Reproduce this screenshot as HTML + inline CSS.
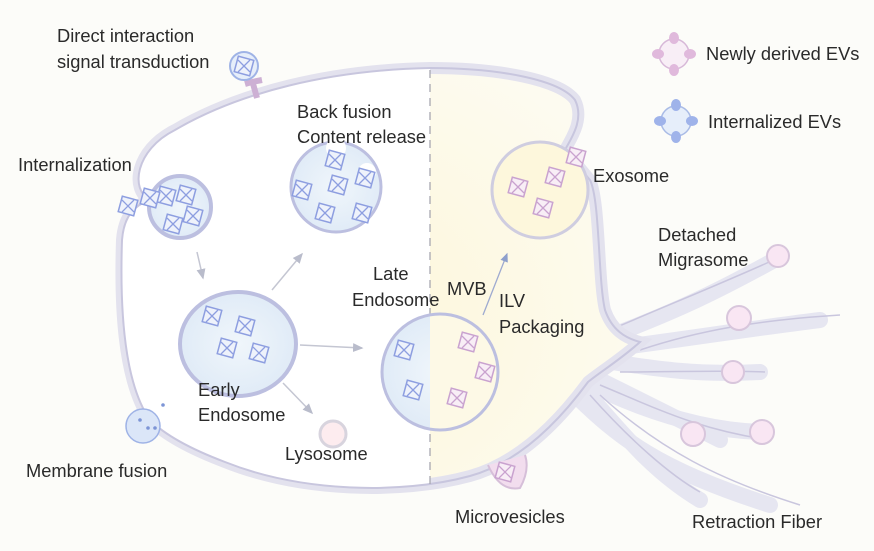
<!DOCTYPE html>
<html><head><meta charset="utf-8"><style>
html,body{margin:0;padding:0;background:#fcfcf9;}
svg{display:block}
text{font-family:"Liberation Sans",Arial,sans-serif;font-size:18.3px;fill:#2a2a2a}
</style></head><body>
<svg width="874" height="551" viewBox="0 0 874 551" xmlns="http://www.w3.org/2000/svg">
<defs>
<radialGradient id="yel" cx="0.35" cy="0.6" r="0.7">
<stop offset="0" stop-color="#fdf6d6"/><stop offset="1" stop-color="#fdfbf0"/></radialGradient>
<radialGradient id="blu" cx="0.5" cy="0.5" r="0.6">
<stop offset="0" stop-color="#f0f6fb"/><stop offset="1" stop-color="#dde9f6"/></radialGradient>
<clipPath id="leftc"><rect x="0" y="0" width="430" height="551"/></clipPath>
<clipPath id="rightc"><rect x="430" y="0" width="444" height="551"/></clipPath>
<path id="cell" d="M150,200 C130,190 135,150 175,130 C240,92 330,70 430,68 C500,68 560,80 575,100 C585,120 570,140 565,150 L590,180 C600,200 598,280 605,310 C612,330 625,338 640,342 C620,360 600,372 588,382 C560,420 520,462 470,476 C400,495 300,492 225,462 C180,445 160,430 150,420 C122,380 120,300 122,240 C124,215 135,205 150,200 Z"/>
<g id="cb"><rect x="-8" y="-8" width="16" height="16" fill="#eef2fb" stroke="#8d9ee0" stroke-width="1.5" transform="rotate(15)"/><path d="M-6,-6L6,6M6,-6L-6,6" stroke="#8d9ee0" stroke-width="1.3"/></g>
<g id="cp"><rect x="-8" y="-8" width="16" height="16" fill="#f8eef6" stroke="#c9a2cf" stroke-width="1.5" transform="rotate(15)"/><path d="M-6,-6L6,6M6,-6L-6,6" stroke="#c9a2cf" stroke-width="1.3"/></g>
<marker id="ar" markerWidth="8" markerHeight="8" refX="6" refY="4" orient="auto"><path d="M0,1L7,4L0,7Z" fill="#b9bccb"/></marker>
<marker id="arb" markerWidth="8" markerHeight="8" refX="6" refY="4" orient="auto"><path d="M0,1L7,4L0,7Z" fill="#8ea0cc"/></marker>
</defs>

<!-- fibers -->
<g stroke="#e6e6f1" stroke-width="16" fill="none" stroke-linecap="round">
<path d="M600,340 C680,310 720,290 778,258"/>
<path d="M600,350 C680,340 740,330 820,320"/>
<path d="M600,360 C660,370 700,375 760,372"/>
<path d="M590,375 C640,400 680,420 720,440"/>
<path d="M580,380 C640,410 700,430 760,432"/>
<path d="M580,385 C620,430 650,470 700,500"/>
<path d="M570,390 C620,440 660,470 770,505"/>
</g>
<g stroke="#c9c6de" stroke-width="1.5" fill="none">
<path d="M610,330 C680,300 730,280 778,258"/>
<path d="M640,350 C700,330 760,320 840,315"/>
<path d="M620,372 C680,372 720,370 765,372"/>
<path d="M600,385 C660,410 700,430 770,440"/>
<path d="M590,395 C630,440 670,475 700,492"/>
<path d="M600,395 C660,450 720,480 800,505"/>
</g>

<!-- cell -->
<use href="#cell" fill="url(#yel)" stroke="#e3e2ee" stroke-width="12"/>
<use href="#cell" fill="#ffffff" clip-path="url(#leftc)"/>
<use href="#cell" fill="none" stroke="#c8c6de" stroke-width="2"/>

<line x1="430" y1="70" x2="430" y2="485" stroke="#a8a8b0" stroke-width="1.3" stroke-dasharray="8,6"/>

<!-- receptor top -->
<path d="M252,80 L257,98 M245,84 L252,82 L262,80" stroke="#cdb0d4" stroke-width="6" fill="none"/>
<circle cx="244" cy="66" r="14" fill="#e6eefa" stroke="#9fb3e6" stroke-width="2"/>
<use href="#cb" x="244" y="66"/>

<!-- internalization vesicle -->
<circle cx="180" cy="207" r="31" fill="url(#blu)" stroke="#bcbfe0" stroke-width="4"/>
<use href="#cb" x="166" y="196"/><use href="#cb" x="186" y="195"/><use href="#cb" x="193" y="216"/><use href="#cb" x="173" y="224"/>
<use href="#cb" x="128" y="206"/><use href="#cb" x="150" y="198"/>

<!-- back fusion -->
<circle cx="336" cy="187" r="45" fill="url(#blu)" stroke="#bcbfe0" stroke-width="3"/>
<circle cx="336" cy="148" r="10" fill="#fff"/><circle cx="367" cy="172" r="9" fill="#fff"/>
<use href="#cb" x="302" y="190"/><use href="#cb" x="338" y="185"/><use href="#cb" x="325" y="213"/><use href="#cb" x="362" y="213"/><use href="#cb" x="335" y="160"/><use href="#cb" x="365" y="178"/>

<!-- early endosome -->
<ellipse cx="238" cy="344" rx="58" ry="52" fill="url(#blu)" stroke="#bcbfe0" stroke-width="4"/>
<use href="#cb" x="212" y="316"/><use href="#cb" x="245" y="326"/><use href="#cb" x="227" y="348"/><use href="#cb" x="259" y="353"/>

<!-- late endosome / MVB -->
<circle cx="440" cy="372" r="58" fill="url(#blu)" stroke="#bcbfe0" stroke-width="3" clip-path="url(#leftc)"/>
<circle cx="440" cy="372" r="58" fill="#fdf9e6" stroke="#bcbfe0" stroke-width="3" clip-path="url(#rightc)"/>
<use href="#cb" x="404" y="350"/><use href="#cb" x="413" y="390"/>
<use href="#cp" x="468" y="342"/><use href="#cp" x="485" y="372"/><use href="#cp" x="457" y="398"/>

<!-- exosome MVB -->
<circle cx="540" cy="190" r="48" fill="#fdf7dc" stroke="#cfcde0" stroke-width="3"/>
<use href="#cp" x="518" y="187"/><use href="#cp" x="555" y="177"/><use href="#cp" x="543" y="208"/><use href="#cp" x="576" y="157"/>

<!-- lysosome -->
<circle cx="333" cy="434" r="13" fill="#fdecef" stroke="#d8d4de" stroke-width="3"/>

<!-- microvesicle -->
<path d="M488,465 Q500,492 520,488 Q530,470 525,455" fill="#f2ddee" stroke="#d6bfd9" stroke-width="2"/>
<use href="#cp" x="505" y="472"/>

<!-- membrane fusion vesicle -->
<circle cx="143" cy="426" r="17" fill="#dbe6f8" stroke="#9fb3e6" stroke-width="1.5"/>
<circle cx="140" cy="420" r="1.8" fill="#7d95d6"/><circle cx="148" cy="428" r="1.8" fill="#7d95d6"/><circle cx="155" cy="428" r="1.8" fill="#7d95d6"/><circle cx="163" cy="405" r="1.8" fill="#7d95d6"/>

<!-- migrasomes -->
<g fill="#f9e6f3" stroke="#d8c6dc" stroke-width="2">
<circle cx="778" cy="256" r="11"/><circle cx="739" cy="318" r="12"/><circle cx="733" cy="372" r="11"/><circle cx="693" cy="434" r="12"/><circle cx="762" cy="432" r="12"/>
</g>

<!-- arrows -->
<g stroke="#c4c6d2" stroke-width="1.5" fill="none" marker-end="url(#ar)">
<line x1="197" y1="252" x2="203" y2="278"/>
<line x1="272" y1="290" x2="302" y2="254"/>
<line x1="300" y1="345" x2="362" y2="348"/>
<line x1="283" y1="383" x2="312" y2="413"/>
</g>
<line x1="483" y1="315" x2="507" y2="254" stroke="#9eaad0" stroke-width="1.3" marker-end="url(#arb)"/>

<!-- legend -->
<circle cx="674" cy="54" r="15" fill="#f8eef6" stroke="#d7b8d8" stroke-width="1.5"/>
<g fill="#e0b9dc"><ellipse cx="674" cy="38" rx="5" ry="6"/><ellipse cx="674" cy="70" rx="5" ry="6"/><ellipse cx="658" cy="54" rx="6" ry="5"/><ellipse cx="690" cy="54" rx="6" ry="5"/></g>
<circle cx="676" cy="121" r="15" fill="#e6eefa" stroke="#a9bbe6" stroke-width="1.5"/>
<g fill="#9fb3ea"><ellipse cx="676" cy="105" rx="5" ry="6"/><ellipse cx="676" cy="137" rx="5" ry="6"/><ellipse cx="660" cy="121" rx="6" ry="5"/><ellipse cx="692" cy="121" rx="6" ry="5"/></g>

<!-- text -->
<text x="57" y="42">Direct interaction</text>
<text x="57" y="68">signal transduction</text>
<text x="18" y="171">Internalization</text>
<text x="297" y="118">Back fusion</text>
<text x="297" y="143">Content release</text>
<text x="373" y="280">Late</text>
<text x="352" y="306">Endosome</text>
<text x="447" y="295">MVB</text>
<text x="499" y="307">ILV</text>
<text x="499" y="333">Packaging</text>
<text x="198" y="396">Early</text>
<text x="198" y="421">Endosome</text>
<text x="285" y="460">Lysosome</text>
<text x="26" y="477">Membrane fusion</text>
<text x="455" y="523">Microvesicles</text>
<text x="692" y="528">Retraction Fiber</text>
<text x="593" y="182">Exosome</text>
<text x="658" y="241">Detached</text>
<text x="658" y="266">Migrasome</text>
<text x="706" y="60">Newly derived EVs</text>
<text x="708" y="128">Internalized EVs</text>
</svg>
</body></html>
